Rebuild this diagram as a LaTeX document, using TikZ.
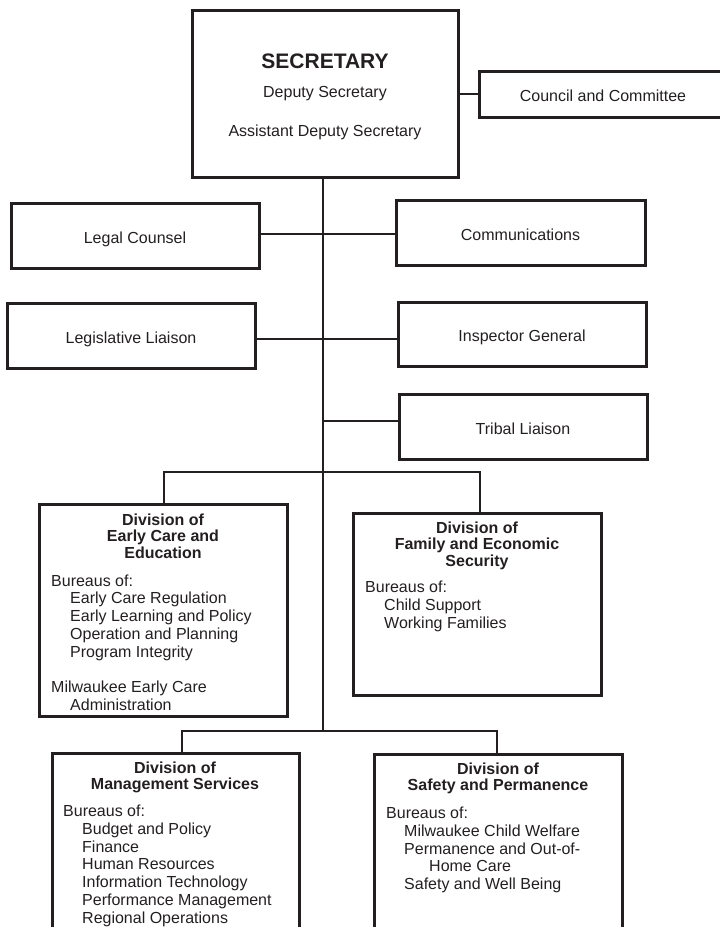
\documentclass[tikz,border=0pt]{standalone}
\usepackage{fontspec}
\setmainfont{Liberation Sans}
\definecolor{ink}{HTML}{231F20}
\begin{document}
\begin{tikzpicture}[x=1pt,y=-1pt,
  box/.style={draw=ink, line width=3pt, rectangle, inner sep=0pt, text=ink,
    font=\fontsize{16}{18}\selectfont, text height=15.4pt, text depth=0pt},
  wire/.style={draw=ink, line width=2.5pt},
  ttl/.style={inner sep=0pt, text=ink, font=\bfseries\fontsize{16}{16.4}\selectfont, align=center, anchor=base},
  lst/.style={inner sep=0pt, text=ink, font=\fontsize{16}{17.8}\selectfont, align=left, anchor=base west},
  plain/.style={inner sep=0pt, text=ink, font=\fontsize{16}{18}\selectfont, anchor=base},
]
\useasboundingbox (0,0) rectangle (720,927);

% top
\node[box, minimum width=266pt, minimum height=167pt] (sec) at (325,93.5) {};
\node[inner sep=0pt, text=ink, font=\bfseries\fontsize{21}{24}\selectfont, anchor=base] (secT) at (325,68) {SECRETARY};
\node[plain] (dep) at (325,97.5) {Deputy Secretary};
\node[plain] (adep) at (325,136) {Assistant Deputy Secretary};

\node[box, minimum width=248pt, minimum height=46pt] (council) at (603,94) {Council and Committee};

% staff
\node[box, minimum width=248pt, minimum height=65pt] (legal) at (135,235.5) {Legal Counsel};
\node[box, minimum width=249pt, minimum height=65pt] (comm) at (520.5,232.5) {Communications};
\node[box, minimum width=248pt, minimum height=65pt] (legis) at (131,335.5) {Legislative Liaison};
\node[box, minimum width=248pt, minimum height=64pt] (insp) at (522,334) {Inspector General};
\node[box, minimum width=248pt, minimum height=65pt] (tribal) at (523,426.5) {Tribal Liaison};

% divisions (node base = baseline of last line)
\node[box, minimum width=248pt, minimum height=212pt] (ece) at (163,610) {};
\node[ttl] (eceT) at (163,558.3) {Division of\\Early Care and\\Education};
\node[lst] (eceL) at (51,710.6) {Bureaus of:\\
\hspace*{19pt}Early Care Regulation\\
\hspace*{19pt}Early Learning and Policy\\
\hspace*{19pt}Operation and Planning\\
\hspace*{19pt}Program Integrity\\[17.8pt]
Milwaukee Early Care\\
\hspace*{19pt}Administration};

\node[box, minimum width=248pt, minimum height=182pt] (fes) at (477,604) {};
\node[ttl] (fesT) at (477,566.3) {Division of\\Family and Economic\\Security};
\node[lst] (fesL) at (365,628.1) {Bureaus of:\\
\hspace*{19pt}Child Support\\
\hspace*{19pt}Working Families};

\node[box, minimum width=247pt, minimum height=182pt] (ms) at (175.5,844) {};
\node[ttl] (msT) at (175,789.4) {Division of\\Management Services};
\node[lst] (msL) at (63,923.3) {Bureaus of:\\
\hspace*{19pt}Budget and Policy\\
\hspace*{19pt}Finance\\
\hspace*{19pt}Human Resources\\
\hspace*{19pt}Information Technology\\
\hspace*{19pt}Performance Management\\
\hspace*{19pt}Regional Operations};

\node[box, minimum width=248pt, minimum height=181pt] (sp) at (498,844.5) {};
\node[ttl] (spT) at (498,790.7) {Division of\\Safety and Permanence};
\node[lst] (spL) at (386,889.7) {Bureaus of:\\
\hspace*{18pt}Milwaukee Child Welfare\\
\hspace*{18pt}Permanence and Out-of-\\
\hspace*{43pt}Home Care\\
\hspace*{18pt}Safety and Well Being};

% connectors
\coordinate (jl) at (323,234);
\coordinate (jg) at (323,339);
\coordinate (jt) at (323,421);
\coordinate (ju) at (323,472);
\coordinate (jb) at (323,731);

\draw[wire] (sec.east |- council.west) -- (council.west);
\draw[wire] (sec.south -| jb) -- (jb);
\draw[wire] (legal.east |- jl) -- (comm.west |- jl);
\draw[wire] (legis.east |- jg) -- (insp.west |- jg);
\draw[wire] (jt) -- (tribal.west |- jt);
\draw[wire] ([xshift=1pt]ece.north) -- ([xshift=1pt]ece.north |- ju) -- ([xshift=3pt]fes.north |- ju) -- ([xshift=3pt]fes.north);
\draw[wire] ([xshift=6.5pt]ms.north) -- ([xshift=6.5pt]ms.north |- jb) -- ([xshift=-1pt]sp.north |- jb) -- ([xshift=-1pt]sp.north);
\end{tikzpicture}
\end{document}
